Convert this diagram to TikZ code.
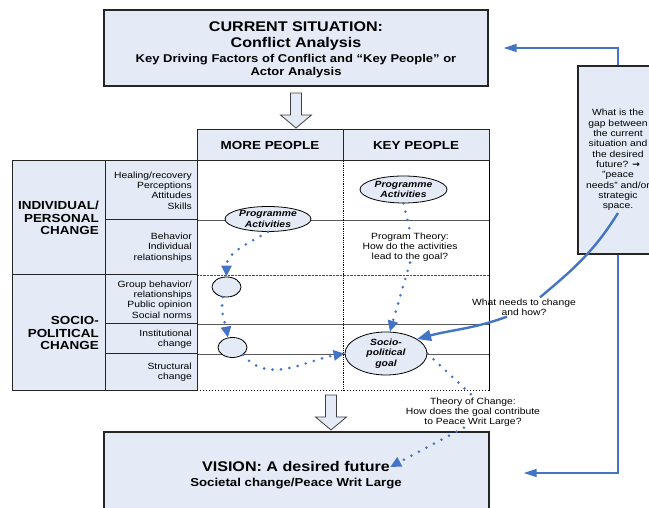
\documentclass[tikz,border=0pt]{standalone}
\usepackage{fontspec}
\setmainfont{Liberation Sans}[FakeStretch=1.15]
\newfontfamily\symfont{DejaVu Sans}
\usetikzlibrary{arrows.meta,shapes.geometric}
\definecolor{boxfill}{RGB}{228,235,247}
\definecolor{flowblue}{RGB}{68,116,198}
\newcommand{\smallfont}{\fontsize{9}{10.3}\selectfont}
\newcommand{\blockdown}[2]{\draw[blockarrow] (#1-5.5,#2)--++(11,0)--++(0,-22)--++(10,0)--(#1,#2-35)--(#1-15.5,#2-22)--++(10,0)--cycle;}
\tikzset{
  panel/.style={draw=black!85, line width=1.4pt, fill=boxfill},
  cell/.style={draw=black!85, line width=1pt, fill=boxfill},
  note/.style={font=\smallfont, align=center, inner sep=1pt},
  rowtext/.style={font=\smallfont, align=right, anchor=east, inner sep=0pt},
  bigtext/.style={font=\fontsize{11.7}{12.5}\selectfont\bfseries, align=right, anchor=east, inner sep=0pt},
  oval/.style={ellipse, draw=black, line width=0.8pt, fill=boxfill, inner sep=0pt, font=\smallfont\bfseries\itshape, align=center},
  dots/.style={flowblue, line width=2.9pt, line cap=round, dash pattern=on 0pt off 8.5pt},
  flow/.style={dots, -{Triangle[length=11pt,width=10pt]}},
  link/.style={flowblue, line width=1.6pt, -{Triangle[length=13pt,width=8pt]}},
  sweep/.style={flowblue, line width=2.4pt},
  blockarrow/.style={draw=black!75, line width=0.8pt, fill=boxfill},
}

\begin{document}
\begin{tikzpicture}[x=1pt,y=1pt]
\useasboundingbox (0,0) rectangle (649,508);
\clip (0,0) rectangle (649,508);
\node[panel, minimum width=384pt, minimum height=76pt] (current) at (296,460) {};
\node[font=\fontsize{14}{16}\selectfont\bfseries, align=center, inner sep=0pt] (currenttitle) at (296,472) {CURRENT SITUATION:\\Conflict Analysis};
\node[font=\fontsize{11.3}{12.3}\selectfont\bfseries, align=center, inner sep=0pt] (currentsub) at (296,442) {Key Driving Factors of Conflict and ``Key People'' or\\Actor Analysis};
\blockdown{296}{415}
\node[cell, minimum width=146pt, minimum height=31pt, font=\fontsize{11.7}{13}\selectfont\bfseries] (morepeople) at (270,362.5) {MORE PEOPLE};
\node[cell, minimum width=146pt, minimum height=31pt, font=\fontsize{11.7}{13}\selectfont\bfseries] (keypeople) at (416,362.5) {KEY PEOPLE};
\draw[line width=1pt] (197,347) -- (197,117);
\draw[line width=1pt] (489,347) -- (489,117);
\draw[line width=1pt, dotted] (197,117) -- (489,117);
\foreach \y in {288,184,154} \draw[black!65, line width=0.8pt] (197,\y) -- (489,\y);
\draw[densely dotted, black!70] (197,233) -- (489,233);
\draw[densely dotted, line width=0.8pt] (343,347) -- (343,117);
\draw[cell] (12,347) rectangle (105,233);
\draw[cell] (12,233) rectangle (105,117);
\node[bigtext] (individual) at (99,290) {INDIVIDUAL/\\PERSONAL\\CHANGE};
\node[bigtext] (sociopol) at (99,175) {SOCIO-\\POLITICAL\\CHANGE};
\foreach \ya/\yb/\txt [count=\i] in {347/288/{Healing/recovery\\Perceptions\\Attitudes\\Skills}, 288/233/{Behavior\\Individual\\relationships}, 233/184/{Group behavior/\\relationships\\Public opinion\\Social norms}, 184/154/{Institutional\\change}, 154/117/{Structural\\change}}{
  \draw[cell] (105,\ya) rectangle (197,\yb);
  \node[rowtext] (aspect\i) at (192,{(\ya+\yb)/2}) {\txt};
}
\node[oval, minimum width=86pt, minimum height=25pt] (actmore) at (268,289) {Programme\\Activities};
\node[oval, minimum width=87pt, minimum height=27pt] (actkey) at (403.5,318.5) {Programme\\Activities};
\node[oval, minimum width=29pt, minimum height=20pt] (groupstep) at (226.5,221) {};
\node[oval, minimum width=29pt, minimum height=20pt] (inststep) at (232.5,160.5) {};
\node[oval, minimum width=82pt, minimum height=43pt] (goal) at (386,154.5) {Socio-\\political\\goal};
\node[note] (progtheory) at (410,261) {Program Theory:\\How do the activities\\lead to the goal?};
\node[note] (whatneeds) at (524,201) {What needs to change\\and how?};
\node[note] (theory) at (473,96) {Theory of Change:\\How does the goal contribute\\to Peace Writ Large?};
\node[panel, line width=1.2pt, minimum width=80pt, minimum height=188pt, font=\smallfont, align=center] (gapbox) at (618,348) {What is the\\gap between\\the current\\situation and\\the desired\\future? {\symfont\bfseries →}\\"peace\\needs" and/or\\strategic\\space.};
\blockdown{331}{113}
\node[panel, minimum width=385pt, minimum height=82pt] (visionbox) at (296.5,35) {};
\node[font=\fontsize{14}{16}\selectfont\bfseries, inner sep=0pt] (vision) at (296,41) {VISION: A desired future};
\node[font=\fontsize{11.5}{12}\selectfont\bfseries, inner sep=0pt] (visionsub) at (296,24) {Societal change/Peace Writ Large};
\draw[link] (gapbox.north) |- ([xshift=15pt]current.east);
\draw[link] (gapbox.south) |- ([xshift=34pt]visionbox.east);
\coordinate (gapstart) at (618,295);
\draw[sweep] (gapstart) to[out=238,in=40] ([xshift=16pt]whatneeds.north);
\draw[sweep, -{Triangle[length=14pt,width=11pt]}] ([xshift=-17pt]whatneeds.south) to[out=200,in=15] (goal.25);
\draw[flow] (actmore.south) to[out=210,in=90] (groupstep.north);
\draw[flow] (groupstep.250) to[out=260,in=100] (inststep.115);
\draw[flow] (inststep.south east) to[out=-50,in=190] (goal.west);
\draw[dots] (actkey.south) -- (progtheory.north);
\draw[flow] (progtheory.south) -- (goal.80);
\draw[dots] (goal.east) -- (theory.north);
\draw[flow] (theory.240) -- (vision.east);
\end{tikzpicture}
\end{document}
